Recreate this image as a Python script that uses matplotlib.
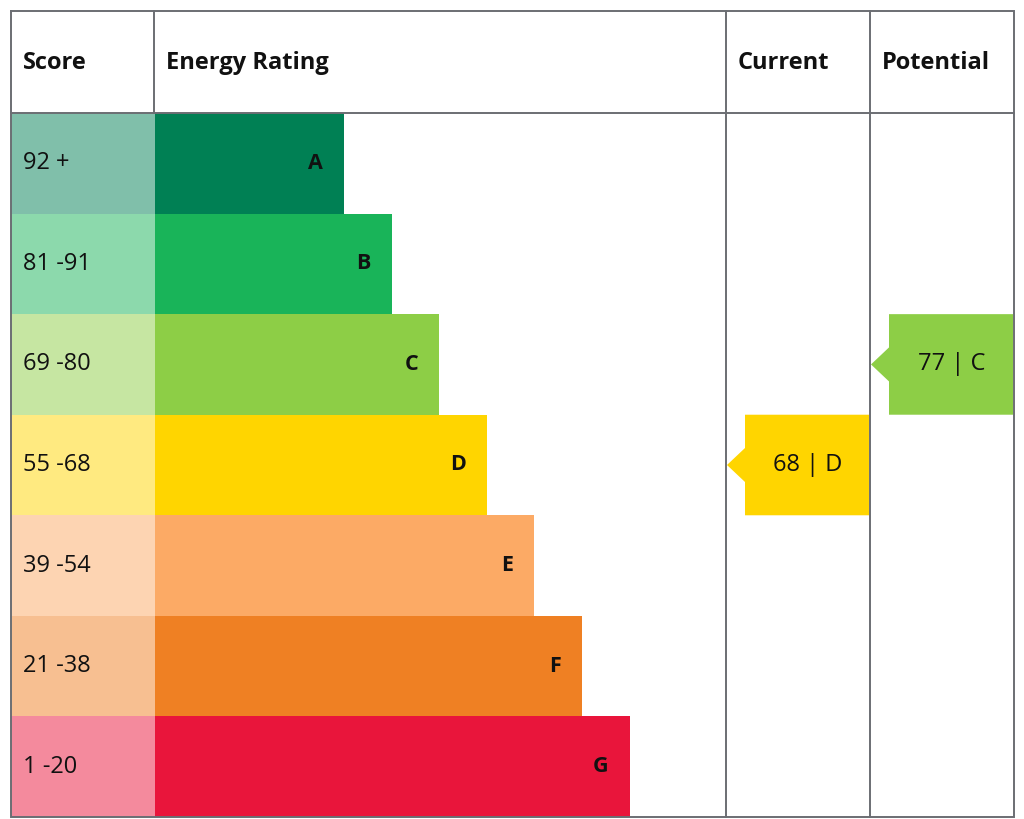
import matplotlib
matplotlib.use("Agg")
import matplotlib.pyplot as plt
from matplotlib.patches import Rectangle, Polygon

plt.rcParams['font.family'] = ['Open Sans', 'DejaVu Sans']

# data
bands = ['A', 'B', 'C', 'D', 'E', 'F', 'G']
score_ranges = ['92 +', '81 -91', '69 -80', '55 -68', '39 -54', '21 -38', '1 -20']
band_colors = ['#008054', '#19b459', '#8dce46', '#ffd500', '#fcaa65', '#ef8023', '#e9153b']
score_colors = ['#80bfaa', '#8cd9ac', '#c6e6a2', '#ffea80', '#fdd4b2', '#f7bf91', '#f48a9d']
headers = ['Score', 'Energy Rating', 'Current', 'Potential']
current_score, current_band = 68, 'D'
potential_score, potential_band = 77, 'C'

# layout (pixels)
W, H = 1024, 819
left, right, top, bottom = 11, 1014, 11, 817
head_bot = 113
col_x = [left, 154, 726, 870, right]
row_h = (bottom - head_bot) / len(bands)
bar0 = 190
bar_step = 47.6
border = '#6b6e73'

fig = plt.figure(figsize=(W / 100, H / 100), dpi=100)
ax = fig.add_axes([0, 0, 1, 1])
ax.set_xlim(0, W)
ax.set_ylim(H, 0)
ax.axis('off')

lw = 1.4
# grid lines first, the colour cells cover the score/rating divider
ax.plot([left, right, right, left, left], [top, top, bottom, bottom, top],
        color=border, lw=lw, solid_joinstyle='miter', zorder=3)
ax.plot([left, right], [head_bot, head_bot], color=border, lw=lw, zorder=3)
ax.plot([col_x[1], col_x[1]], [top, head_bot], color=border, lw=lw, zorder=3)
for x in col_x[2:-1]:
    ax.plot([x, x], [top, bottom], color=border, lw=lw, zorder=3)

for i, b in enumerate(bands):
    y0 = head_bot + i * row_h
    ym = y0 + row_h / 2
    ax.add_patch(Rectangle((col_x[0], y0), col_x[1] - col_x[0] + 1, row_h,
                           facecolor=score_colors[i], edgecolor='none', zorder=2))
    ax.text(col_x[0] + 12, ym, score_ranges[i], fontsize=17, va='center',
            ha='left', color='#111111', zorder=4)
    bw = bar0 + bar_step * i
    ax.add_patch(Rectangle((col_x[1] + 1, y0), bw - 1, row_h,
                           facecolor=band_colors[i], edgecolor='none', zorder=2))
    ax.text(col_x[1] + bw - 21, ym, b, fontsize=15.5, fontweight='bold',
            va='center', ha='right', color='#111111', zorder=4)


def marker(col, score, band):
    i = bands.index(band)
    y0 = head_bot + i * row_h
    ym = y0 + row_h / 2
    x0 = col_x[col] + 19
    x1 = col_x[col + 1] - 1
    pts = [(x0, y0), (x1, y0), (x1, y0 + row_h), (x0, y0 + row_h),
           (x0, ym + 17), (col_x[col] + 1, ym), (x0, ym - 17)]
    ax.add_patch(Polygon(pts, closed=True, facecolor=band_colors[i],
                         edgecolor='none', zorder=2))
    ax.text((x0 + x1) / 2 + 1, ym, f'{score} | {band}', fontsize=17,
            va='center', ha='center', color='#111111', zorder=4)


marker(2, current_score, current_band)
marker(3, potential_score, potential_band)

for j, h in enumerate(headers):
    ax.text(col_x[j] + 12, (top + head_bot) / 2 + 1, h, fontsize=17,
            fontweight='bold', va='center', ha='left', color='#111111')

fig.savefig('out.png', dpi=100, facecolor='white')
